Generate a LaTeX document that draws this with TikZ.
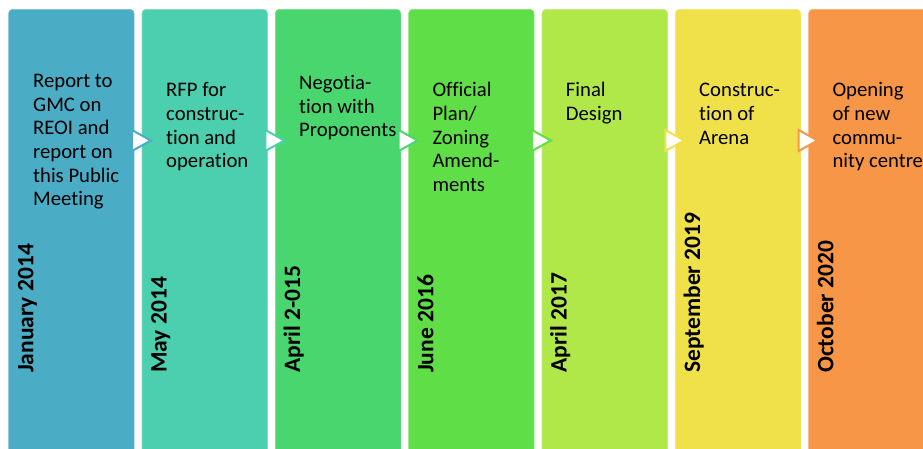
\documentclass[tikz,border=0pt]{standalone}
\usepackage{fontspec}
\setmainfont{Carlito}[Ligatures=NoCommon]
\usetikzlibrary{calc}
\definecolor{c1}{HTML}{4BACC6}
\definecolor{c2}{HTML}{4BCFAF}
\definecolor{c3}{HTML}{4AD66F}
\definecolor{c4}{HTML}{60DE47}
\definecolor{c5}{HTML}{B0E84A}
\definecolor{c6}{HTML}{F0E14A}
\definecolor{c7}{HTML}{F79646}
\begin{document}
\begin{tikzpicture}[x=1pt,y=-1pt,
  colbox/.style={rectangle, rounded corners=4pt, minimum width=125.5pt, minimum height=470pt, inner sep=0pt, anchor=north west, line width=0.6pt},
  desc/.style={anchor=base west, align=left, inner sep=0pt, font=\fontsize{20.7}{23.7}\selectfont, text=black},
  datelbl/.style={anchor=base west, rotate=90, inner sep=0pt, font=\bfseries\fontsize{23.5}{28}\selectfont, text=black},
  chev/.style={fill=white, line width=2pt, line join=miter}]
\useasboundingbox (0,0) rectangle (923,448);
\clip (0,0) rectangle (923,448);
% columns
\node[colbox, fill=c1, draw=c1!75!white] (b1) at (8.3,9) {};
\node[colbox, fill=c2, draw=c2!75!white] (b2) at (141.7,9) {};
\node[colbox, fill=c3, draw=c3!75!white] (b3) at (275,9) {};
\node[colbox, fill=c4, draw=c4!75!white] (b4) at (408.3,9) {};
\node[colbox, fill=c5, draw=c5!75!white] (b5) at (541.7,9) {};
\node[colbox, fill=c6, draw=c6!75!white] (b6) at (675,9) {};
\node[colbox, fill=c7, draw=c7!75!white] (b7) at (808.3,9) {};
% chevrons
\foreach \b/\c in {b1/c1, b2/c2, b3/c3, b4/c4, b5/c6, b6/c7}{
  \draw[chev, draw=\c] ($(\b.north east)+(-2.5,121)$) -- ($(\b.north east)+(16.5,131.5)$) -- ($(\b.north east)+(-2.5,142)$) -- cycle;
}
% descriptions (anchored at the baseline of the last line)
\node[desc] (t1) at (33,205.8) {Report to\\GMC on\\REOI and\\report on\\this Public\\Meeting};
\node[desc] (t2) at (166,167.8) {RFP for\\construc-\\tion and\\operation};
\node[desc] (t3) at (299,136.9) {Negotia-\\tion with\\Proponents};
\node[desc] (t4) at (432.3,191.5) {Official\\Plan/\\Zoning\\Amend-\\ments};
\node[desc] (t5) at (565.7,120.4) {Final\\Design};
\node[desc] (t6) at (699,144.1) {Construc-\\tion of\\Arena};
\node[desc] (t7) at (832.3,167.8) {Opening\\of new\\commu-\\nity centre};
% dates
\node[datelbl] (d1) at (33.3,373) {January 2014};
\node[datelbl] (d2) at (166.7,373) {May 2014};
\node[datelbl] (d3) at (300,373) {April 2-015};
\node[datelbl] (d4) at (433.3,373) {June 2016};
\node[datelbl] (d5) at (566.7,373) {April 2017};
\node[datelbl] (d6) at (700,373) {September 2019};
\node[datelbl] (d7) at (833.3,373) {October 2020};
\end{tikzpicture}
\end{document}
